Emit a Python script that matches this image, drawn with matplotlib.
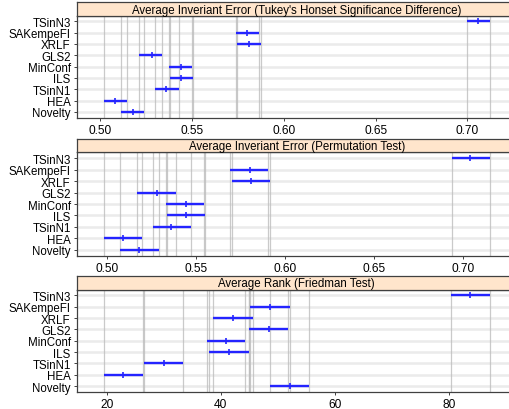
import numpy as np
import matplotlib
matplotlib.use('Agg')
import matplotlib.pyplot as plt

plt.rcParams['font.family'] = ['Liberation Sans', 'DejaVu Sans']

# Algoritmene, ovenfra og ned
algos = ['TSinN3', 'SAKempeFI', 'XRLF', 'GLS2', 'MinConf', 'ILS', 'TSinN1', 'HEA', 'Novelty']

# Panel 1: Tukey HSD
tukey_mid = [0.706, 0.580, 0.581, 0.528, 0.544, 0.544, 0.536, 0.508, 0.518]
tukey_lo = [0.700, 0.574, 0.5747, 0.5212, 0.5375, 0.5379, 0.5299, 0.5020, 0.5113]
tukey_hi = [0.712, 0.5865, 0.5874, 0.5336, 0.5499, 0.5504, 0.5426, 0.5147, 0.5239]

# Panel 2: permutasjonstest
perm_mid = [0.704, 0.580, 0.581, 0.528, 0.544, 0.544, 0.536, 0.509, 0.518]
perm_lo = [0.6937, 0.5689, 0.5699, 0.5169, 0.5330, 0.5334, 0.5255, 0.4981, 0.5071]
perm_hi = [0.715, 0.5904, 0.5914, 0.5384, 0.5543, 0.5549, 0.5470, 0.5195, 0.5289]

# Panel 3: Friedman-rang
rank_mid = [83.75, 48.72, 42.17, 48.43, 40.89, 41.37, 30.04, 22.91, 52.10]
rank_lo = [80.35, 45.22, 38.67, 44.98, 37.51, 37.96, 26.53, 19.53, 48.72]
rank_hi = [87.13, 52.10, 45.68, 51.87, 44.34, 44.87, 33.42, 26.30, 55.48]

titles = ["Average Inveriant Error (Tukey's Honset Significance Difference)",
          "Average Inveriant Error (Permutation Test)",
          "Average Rank (Friedman Test)"]
xticks = [[0.50, 0.55, 0.60, 0.65, 0.70],
          [0.50, 0.55, 0.60, 0.65, 0.70],
          [20, 40, 60, 80]]
xticklabels = [['0.50', '0.55', '0.60', '0.65', '0.70'],
               ['0.50', '0.55', '0.60', '0.65', '0.70'],
               ['20', '40', '60', '80']]

panels = [(tukey_mid, tukey_lo, tukey_hi),
          (perm_mid, perm_lo, perm_hi),
          (rank_mid, rank_lo, rank_hi)]

W, H = 510, 410
fig = plt.figure(figsize=(W / 100, H / 100), dpi=100)

left = 77 / W
width = (516.5 - 77) / W
# (strip topp, strip bunn, plot bunn) i piksler fra toppen
rows = [(3.3, 16.5, 118.5), (140.0, 153.3, 256.7), (276.7, 290.7, 392.8)]

edge = '#404040'
ypos = np.arange(len(algos))[::-1] + 1

for (mid, lo, hi), title, ticks, tlabels, (st, sb, pb) in zip(panels, titles, xticks, xticklabels, rows):
    ax = fig.add_axes([left, 1 - pb / H, width, (pb - sb) / H])
    sax = fig.add_axes([left, 1 - sb / H, width, (sb - st) / H])

    lo = np.array(lo)
    hi = np.array(hi)
    ext = 0.07 * (hi.max() - lo.min())
    ax.set_xlim(lo.min() - ext, hi.max() + ext)
    ax.set_ylim(0.5, len(algos) + 0.5)

    for y in ypos:
        ax.axhline(y, color='#ebebeb', linewidth=1.8, zorder=0)
    for v in np.concatenate([lo, hi]):
        ax.axvline(v, color='#bdbdbd', linewidth=0.9, alpha=0.8, zorder=1)

    ax.hlines(ypos, lo, hi, color='#2424ff', linewidth=1.7, zorder=3)
    ax.plot(mid, ypos, linestyle='none', marker='|', markersize=5,
            markeredgewidth=1.2, color='#2424ff', zorder=4)

    ax.set_yticks(ypos)
    ax.set_yticklabels(algos, fontsize=8.3)
    ax.set_xticks(ticks)
    ax.set_xticklabels(tlabels, fontsize=8.6)
    ax.tick_params(axis='both', length=2.5, width=0.7, color=edge, pad=2)
    for s in ax.spines.values():
        s.set_color(edge)
        s.set_linewidth(0.9)

    sax.set_facecolor('#ffe5cc')
    sax.set_xticks([])
    sax.set_yticks([])
    for s in sax.spines.values():
        s.set_color(edge)
        s.set_linewidth(0.9)
    sax.text(0.5, 0.45, title, transform=sax.transAxes, ha='center', va='center', fontsize=8.3)

fig.savefig('out.png', dpi=100)
